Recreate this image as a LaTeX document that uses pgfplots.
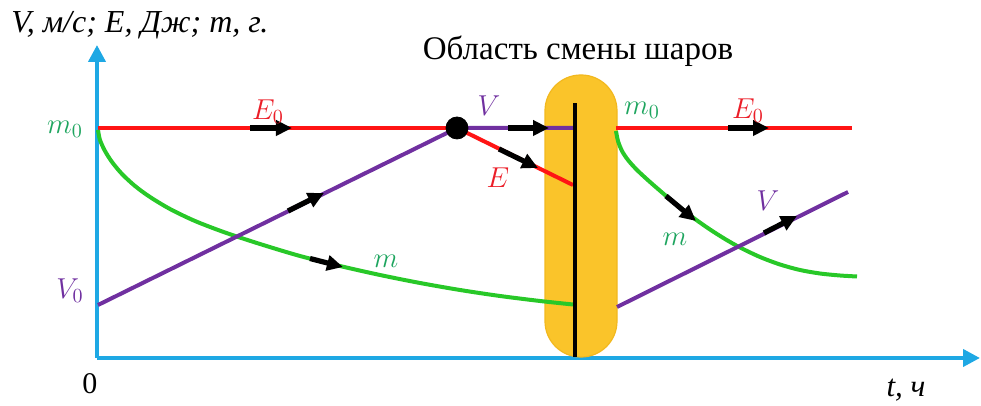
\documentclass[border=0pt]{standalone}
\usepackage{fontspec}
\setmainfont{Liberation Serif}
\usepackage{pgfplots}
\pgfplotsset{compat=1.18}
\usetikzlibrary{arrows.meta}
\definecolor{axisblue}{RGB}{30,168,228}
\definecolor{lred}{RGB}{255,20,20}
\definecolor{lviolet}{RGB}{112,48,160}
\definecolor{lgreen}{RGB}{40,200,40}
\definecolor{tgreen}{RGB}{30,165,95}
\definecolor{tred}{RGB}{235,30,40}
\definecolor{ovalfill}{RGB}{250,196,42}
\definecolor{ovaldraw}{RGB}{242,184,30}
\tikzset{lab/.style={font=\fontsize{14}{16}\selectfont}}
\begin{document}
\begin{tikzpicture}
\begin{axis}[
  scale only axis,
  width=441.5pt, height=156.5pt,
  xmin=97, xmax=980, ymin=48, ymax=361,
  axis lines=left,
  axis line style={line width=2pt, color=axisblue, -{Triangle[length=8.5pt,width=8.5pt]}},
  xtick=\empty, ytick=\empty,
  clip=false,
  arr/.style={black, line width=2.6pt, -{Triangle[length=8pt,width=7.5pt]}, forget plot},
]
\coordinate (bl) at (axis cs:0,0);
\coordinate (tr) at (axis cs:981,406);
% ball-change region
\addplot[fill=ovalfill, draw=ovaldraw, line width=0.6pt, rounded corners=17.9pt]
  coordinates {(545,190)(545,49)(617,49)(617,331)(545,331)(545,190)};
% E (red)
\addplot[lred, line width=2pt] coordinates {(98,278)(457,278)};
\addplot[lred, line width=2pt] coordinates {(457,278)(573,221)};
\addplot[lred, line width=2pt] coordinates {(616,278)(852,278)};
% m (green)
\addplot[lgreen, line width=2pt, smooth] coordinates {
 (98,276)(100,266)(105,255)(112,244)(122,232)(135,220)(150,209)(170,197)
 (195,185)(225,173.5)(260,162)(300,150)(340,140)(380,131)(420,123)(460,116)
 (500,110)(540,105)(573,101.5)};
\addplot[lgreen, line width=2pt, smooth] coordinates {
 (616,275)(618,265)(622,255)(628,246)(637,236)(650,224)(665,211)(680,198.5)
 (695,187)(710,176.5)(725,167)(740,158.5)(760,149)(780,141.5)(800,136)
 (820,132.5)(840,130.5)(857,129.5)};
% V (violet)
\addplot[lviolet, line width=2pt] coordinates {(98,101)(457,278)(574,278)};
\addplot[lviolet, line width=2pt] coordinates {(617,99)(848,214)};
% black divider
\addplot[black, line width=2.2pt] coordinates {(575,49)(575,303)};
% point
\addplot[only marks, mark=*, mark size=5.5pt, black] coordinates {(457,278)};
% direction arrows
\addplot[arr] coordinates {(250,278)(292,278)};
\addplot[arr] coordinates {(288,195)(324,213)};
\addplot[arr] coordinates {(310,147.5)(343,139)};
\addplot[arr] coordinates {(508,278)(549,278)};
\addplot[arr] coordinates {(499,257)(538,238)};
\addplot[arr] coordinates {(728,278)(769,278)};
\addplot[arr] coordinates {(666,210)(696,185)};
\addplot[arr] coordinates {(764,173)(797,190)};
% labels
\node[anchor=west, inner sep=0pt, font=\fontsize{16}{18}\selectfont\itshape] at (axis cs:11,381) {V, м/с; E, Дж; m, г.};
\node[font=\fontsize{16.5}{20}\selectfont] at (axis cs:578,355) {Область смены шаров};
\node[font=\fontsize{15}{18}\selectfont] at (axis cs:90,22) {0};
\node[font=\fontsize{15.5}{18}\selectfont\itshape] at (axis cs:906,16) {t, ч};
\node[lab, text=tgreen] at (axis cs:65,277) {$m_0$};
\node[lab, text=lviolet] at (axis cs:70,115) {$V_0$};
\node[lab, text=tred] at (axis cs:268,294) {$E_0$};
\node[lab, text=lviolet] at (axis cs:489,300) {$V$};
\node[lab, text=tred] at (axis cs:498,228) {$E$};
\node[lab, text=tgreen] at (axis cs:642,296) {$m_0$};
\node[lab, text=tred] at (axis cs:748,295) {$E_0$};
\node[lab, text=tgreen] at (axis cs:386,145) {$m$};
\node[lab, text=tgreen] at (axis cs:675,167) {$m$};
\node[lab, text=lviolet] at (axis cs:768,205) {$V$};
\end{axis}
\pgfresetboundingbox
\useasboundingbox (bl) rectangle (tr);
\end{tikzpicture}
\end{document}
